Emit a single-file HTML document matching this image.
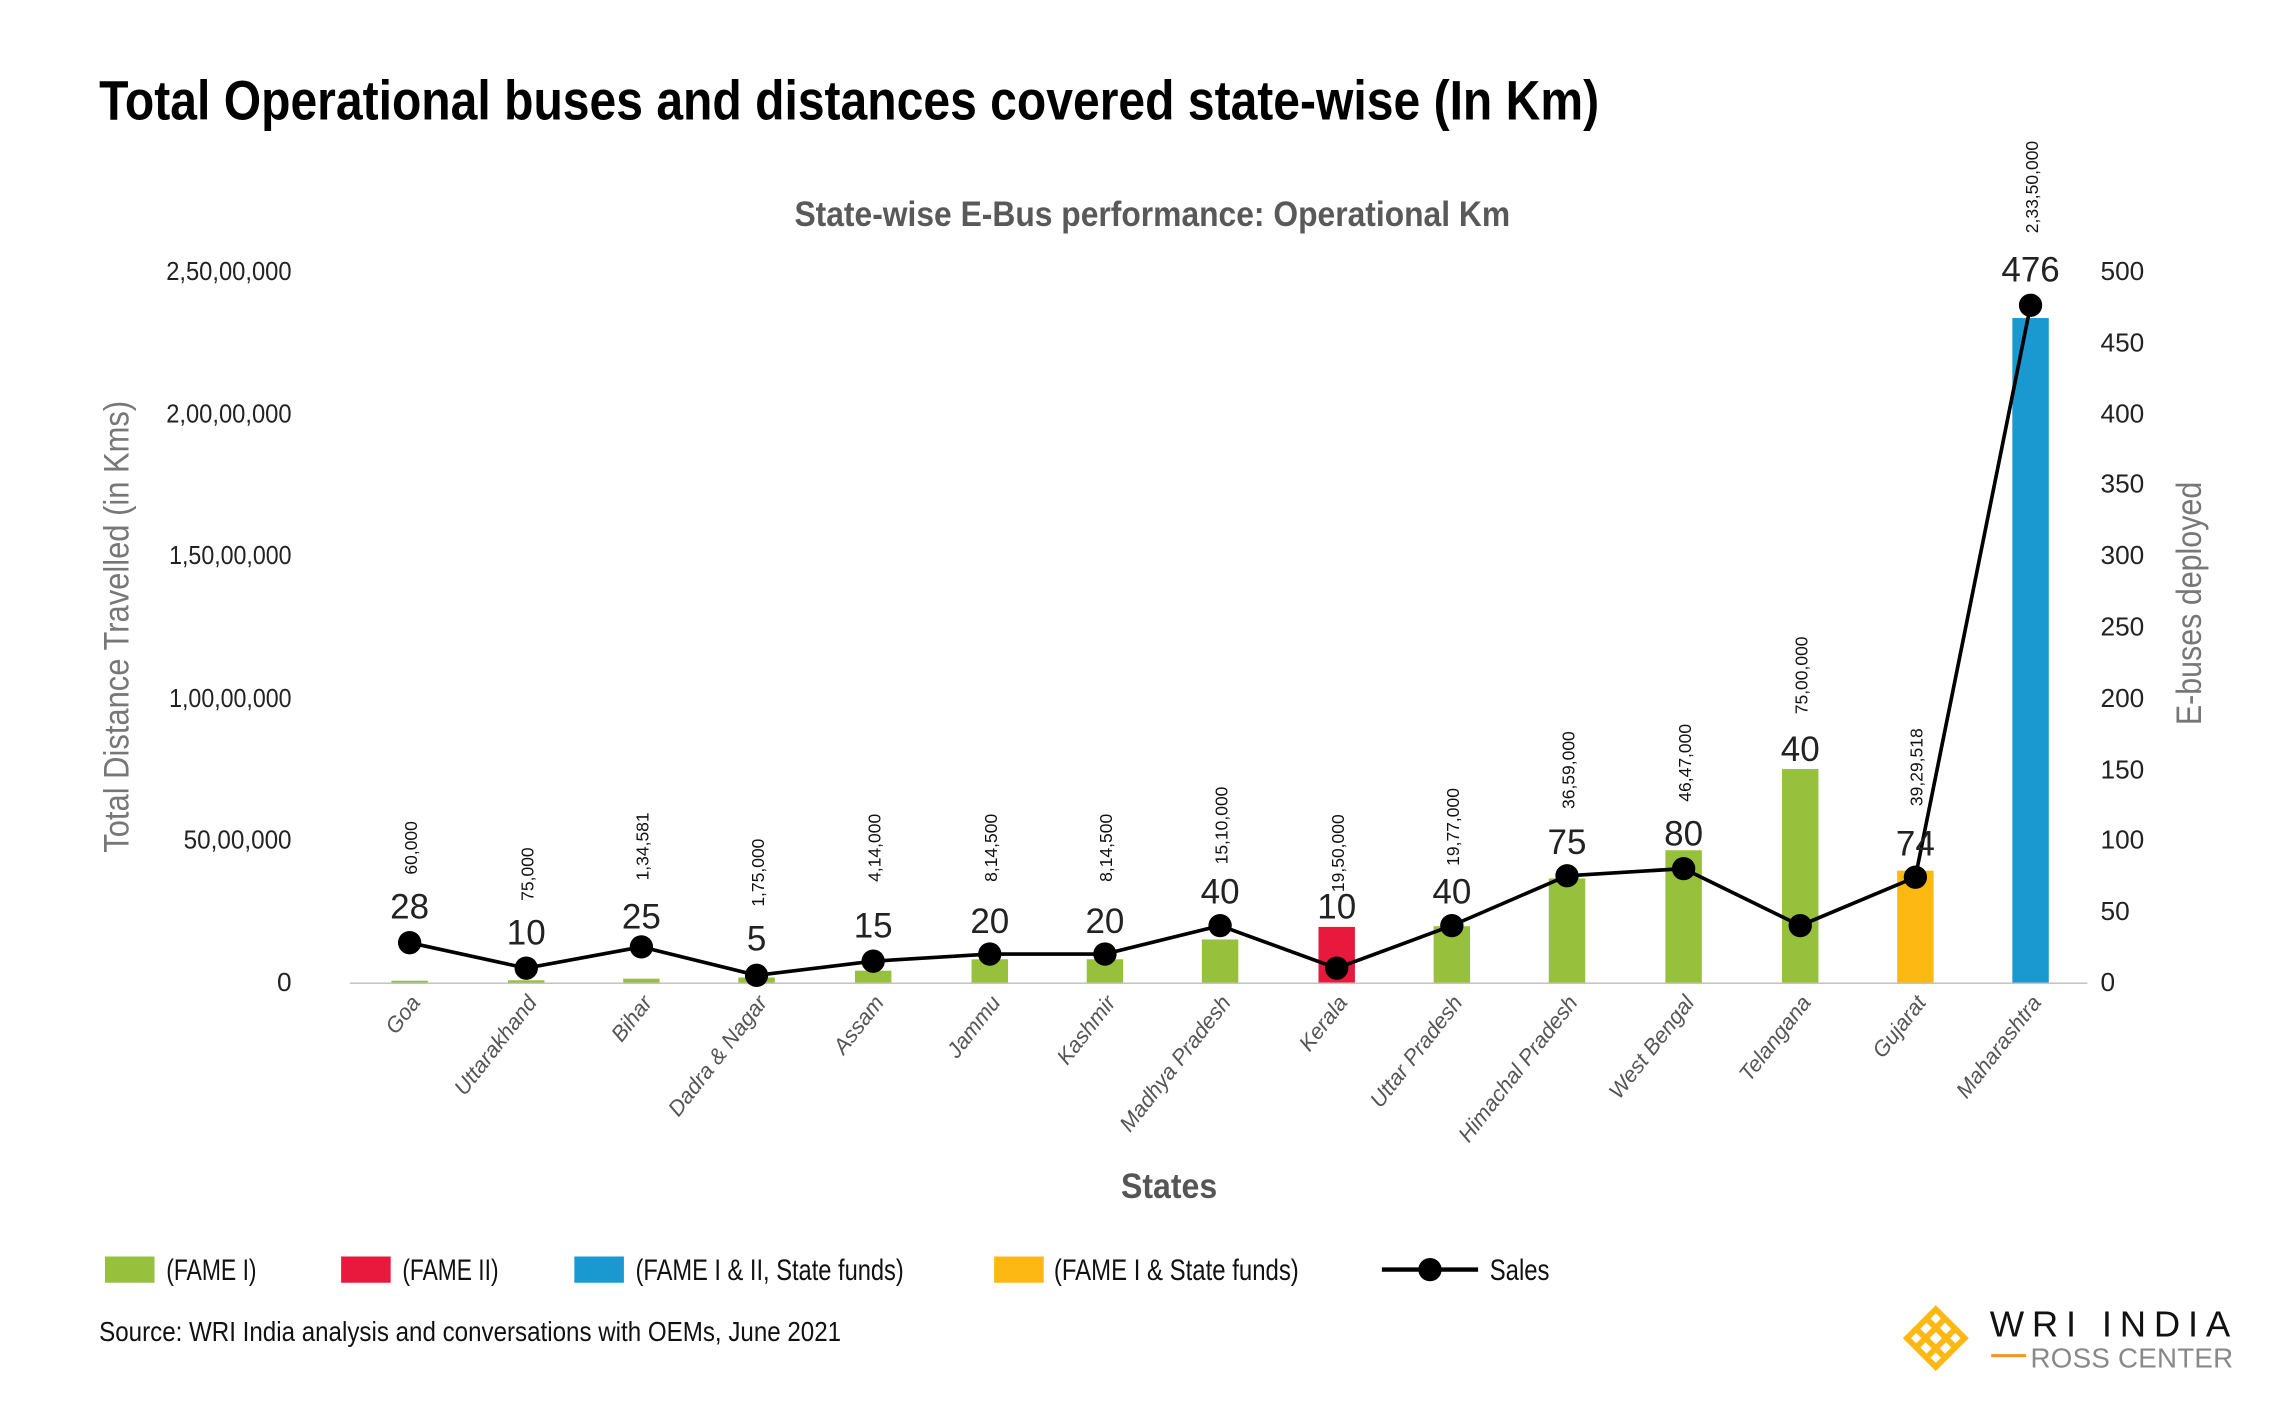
<!DOCTYPE html>
<html><head><meta charset="utf-8"><style>
html,body{margin:0;padding:0;background:#fff;}
svg{display:block;}
text{font-family:"Liberation Sans Narrow","Liberation Sans",sans-serif;}
</style></head><body>
<svg width="2274" height="1403" viewBox="0 0 1560 962.5" xmlns="http://www.w3.org/2000/svg">
<rect width="1560" height="962.5" fill="#fff"/>
<text x="68" y="82" font-size="38" font-weight="bold" fill="#000" textLength="1029" lengthAdjust="spacingAndGlyphs">Total Operational buses and distances covered state-wise (In Km)</text>
<text x="545" y="155" font-size="24" font-weight="bold" fill="#595959" textLength="491" lengthAdjust="spacingAndGlyphs">State-wise E-Bus performance: Operational Km</text>
<g font-size="18" fill="#222" text-anchor="end">
<text x="200" y="680">0</text>
<text x="200" y="582" textLength="74" lengthAdjust="spacingAndGlyphs">50,00,000</text>
<text x="200" y="485" textLength="84" lengthAdjust="spacingAndGlyphs">1,00,00,000</text>
<text x="200" y="387" textLength="84" lengthAdjust="spacingAndGlyphs">1,50,00,000</text>
<text x="200" y="290" textLength="86" lengthAdjust="spacingAndGlyphs">2,00,00,000</text>
<text x="200" y="192" textLength="86" lengthAdjust="spacingAndGlyphs">2,50,00,000</text>
</g>
<g font-size="18" fill="#222">
<text x="1441" y="680">0</text><text x="1441" y="631">50</text><text x="1441" y="582">100</text>
<text x="1441" y="534">150</text><text x="1441" y="485">200</text><text x="1441" y="436">250</text>
<text x="1441" y="387">300</text><text x="1441" y="338">350</text><text x="1441" y="290">400</text>
<text x="1441" y="241">450</text><text x="1441" y="192">500</text>
</g>
<text transform="translate(88,430) rotate(-90)" text-anchor="middle" font-size="24" fill="#777" textLength="310" lengthAdjust="spacingAndGlyphs">Total Distance Travelled (in Kms)</text>
<text transform="translate(1510,414) rotate(-90)" text-anchor="middle" font-size="24" fill="#777" textLength="167" lengthAdjust="spacingAndGlyphs">E-buses deployed</text>
<line x1="240" y1="674.5" x2="1432" y2="674.5" stroke="#bbb" stroke-width="1"/>
<g>
<rect x="268.5" y="672.8" width="25" height="1.2" fill="#97c13c"/>
<rect x="348.5" y="672.5" width="25" height="1.5" fill="#97c13c"/>
<rect x="427.5" y="671.4" width="25" height="2.6" fill="#97c13c"/>
<rect x="506.5" y="670.6" width="25" height="3.4" fill="#97c13c"/>
<rect x="586.5" y="665.9" width="25" height="8.1" fill="#97c13c"/>
<rect x="666.5" y="658.1" width="25" height="15.9" fill="#97c13c"/>
<rect x="745.5" y="658.1" width="25" height="15.9" fill="#97c13c"/>
<rect x="824.5" y="644.5" width="25" height="29.5" fill="#97c13c"/>
<rect x="904.5" y="635.9" width="25" height="38.1" fill="#e8193c"/>
<rect x="983.5" y="635.4" width="25" height="38.6" fill="#97c13c"/>
<rect x="1062.5" y="602.6" width="25" height="71.4" fill="#97c13c"/>
<rect x="1142.5" y="583.3" width="25" height="90.7" fill="#97c13c"/>
<rect x="1222.5" y="527.6" width="25" height="146.4" fill="#97c13c"/>
<rect x="1301.5" y="597.3" width="25" height="76.7" fill="#fdb813"/>
<rect x="1380.5" y="218.2" width="25" height="455.8" fill="#1a98d0"/>
</g>
<polyline fill="none" stroke="#000" stroke-width="2.5" points="281,646.7 361,664.2 440,649.6 519,669.1 599,659.4 679,654.5 758,654.5 837,635 917,664.2 996,635 1075,600.8 1155,595.9 1235,635 1314,601.8 1393,209.4"/>
<g fill="#000">
<circle cx="281" cy="646.7" r="8"/><circle cx="361" cy="664.2" r="8"/><circle cx="440" cy="649.6" r="8"/>
<circle cx="519" cy="669.1" r="8"/><circle cx="599" cy="659.4" r="8"/><circle cx="679" cy="654.5" r="8"/>
<circle cx="758" cy="654.5" r="8"/><circle cx="837" cy="635" r="8"/><circle cx="917" cy="664.2" r="8"/>
<circle cx="996" cy="635" r="8"/><circle cx="1075" cy="600.8" r="8"/><circle cx="1155" cy="595.9" r="8"/>
<circle cx="1235" cy="635" r="8"/><circle cx="1314" cy="601.8" r="8"/><circle cx="1393" cy="209.4" r="8"/>
</g>
<g font-size="24" fill="#222" text-anchor="middle">
<text x="281" y="630">28</text><text x="361" y="648">10</text><text x="440" y="637">25</text>
<text x="519" y="652">5</text><text x="599" y="643">15</text><text x="679" y="640">20</text>
<text x="758" y="640">20</text><text x="837" y="620">40</text><text x="917" y="630">10</text>
<text x="996" y="620">40</text><text x="1075" y="586">75</text><text x="1155" y="580">80</text>
<text x="1235" y="522">40</text><text x="1314" y="587">74</text><text x="1393" y="193">476</text>
</g>
<g font-size="12" fill="#111">
<text transform="translate(286,600) rotate(-90)">60,000</text>
<text transform="translate(366,618) rotate(-90)">75,000</text>
<text transform="translate(445,604) rotate(-90)">1,34,581</text>
<text transform="translate(524,622) rotate(-90)">1,75,000</text>
<text transform="translate(604,605) rotate(-90)">4,14,000</text>
<text transform="translate(684,605) rotate(-90)">8,14,500</text>
<text transform="translate(763,605) rotate(-90)">8,14,500</text>
<text transform="translate(842,593) rotate(-90)">15,10,000</text>
<text transform="translate(922,612) rotate(-90)">19,50,000</text>
<text transform="translate(1001,594) rotate(-90)">19,77,000</text>
<text transform="translate(1080,555) rotate(-90)">36,59,000</text>
<text transform="translate(1160,550) rotate(-90)">46,47,000</text>
<text transform="translate(1240,490) rotate(-90)">75,00,000</text>
<text transform="translate(1319,553) rotate(-90)">39,29,518</text>
<text transform="translate(1398,160) rotate(-90)">2,33,50,000</text>
</g>
<g font-size="15" fill="#555" text-anchor="end" font-style="italic">
<text transform="translate(289,688) rotate(-52)">Goa</text>
<text transform="translate(369,688) rotate(-52)">Uttarakhand</text>
<text transform="translate(448,688) rotate(-52)">Bihar</text>
<text transform="translate(527,688) rotate(-52)">Dadra &amp; Nagar</text>
<text transform="translate(607,688) rotate(-52)">Assam</text>
<text transform="translate(687,688) rotate(-52)">Jammu</text>
<text transform="translate(766,688) rotate(-52)">Kashmir</text>
<text transform="translate(845,688) rotate(-52)">Madhya Pradesh</text>
<text transform="translate(925,688) rotate(-52)">Kerala</text>
<text transform="translate(1004,688) rotate(-52)">Uttar Pradesh</text>
<text transform="translate(1083,688) rotate(-52)">Himachal Pradesh</text>
<text transform="translate(1163,688) rotate(-52)">West Bengal</text>
<text transform="translate(1243,688) rotate(-52)">Telangana</text>
<text transform="translate(1322,688) rotate(-52)">Gujarat</text>
<text transform="translate(1401,688) rotate(-52)">Maharashtra</text>
</g>
<text x="802" y="822" text-anchor="middle" font-size="24" font-weight="bold" fill="#555" textLength="66" lengthAdjust="spacingAndGlyphs">States</text>
<g font-size="20" fill="#111">
<rect x="72" y="862" width="34" height="18" fill="#97c13c"/><text x="114" y="878" textLength="62" lengthAdjust="spacingAndGlyphs">(FAME I)</text>
<rect x="234" y="862" width="34" height="18" fill="#e8193c"/><text x="276" y="878" textLength="66" lengthAdjust="spacingAndGlyphs">(FAME II)</text>
<rect x="394" y="862" width="34" height="18" fill="#1a98d0"/><text x="436" y="878" textLength="184" lengthAdjust="spacingAndGlyphs">(FAME I &amp; II, State funds)</text>
<rect x="682" y="862" width="34" height="18" fill="#fdb813"/><text x="723" y="878" textLength="168" lengthAdjust="spacingAndGlyphs">(FAME I &amp; State funds)</text>
<line x1="948" y1="871" x2="1014" y2="871" stroke="#000" stroke-width="3"/><circle cx="981" cy="871" r="8" fill="#000"/>
<text x="1022" y="878" textLength="41" lengthAdjust="spacingAndGlyphs">Sales</text>
</g>
<text x="68" y="920" font-size="19" fill="#111" textLength="509" lengthAdjust="spacingAndGlyphs">Source: WRI India analysis and conversations with OEMs, June 2021</text>
<g transform="translate(1328,918) rotate(45)" fill="none" stroke="#fdb813" stroke-width="4">
<rect x="-14" y="-14" width="28" height="28"/>
<line x1="-14" y1="-5" x2="14" y2="-5"/><line x1="-14" y1="5" x2="14" y2="5"/>
<line x1="-5" y1="-14" x2="-5" y2="14"/><line x1="5" y1="-14" x2="5" y2="14"/>
</g>
<text x="1365" y="917" font-family="Liberation Serif,serif" font-size="25" fill="#111" textLength="165" lengthAdjust="spacing">WRI INDIA</text>
<line x1="1366" y1="930" x2="1390" y2="930" stroke="#f7931e" stroke-width="2"/>
<text x="1393" y="938" font-family="Liberation Serif,serif" font-size="19" fill="#888" textLength="139" lengthAdjust="spacing">ROSS CENTER</text>
</svg>
</body></html>
